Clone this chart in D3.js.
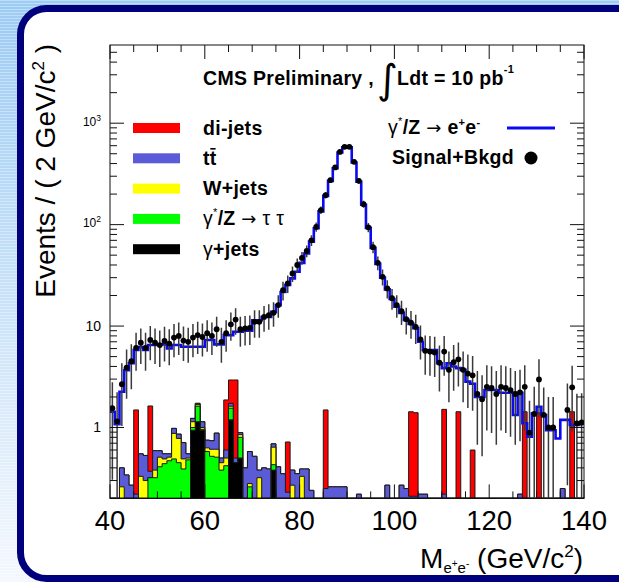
<!DOCTYPE html>
<html><head><meta charset="utf-8">
<script src="https://cdn.jsdelivr.net/npm/d3@7"></script>
<style>body{margin:0;background:#fff;} svg{display:block;} text{font-family:"Liberation Sans",Arial,Helvetica,sans-serif;}</style>
</head><body><svg id="c" width="619" height="582"></svg>
<script>
// ---------------- DATA ----------------
// bins: 1 GeV wide, lower edges 40..139
const massBins = d3.range(40, 140, 1);
const xTickLabels = ["40","60","80","100","120","140"];
const yTickLabels = [{v:1000,b:"10",e:"3"},{v:100,b:"10",e:"2"},{v:10,b:"10",e:""},{v:1,b:"1",e:""}];

const signalBkgd = [
 1.55,1.15,2.67,3.9,4.5,6.1,6.85,6.1,7.3,6.85,
 6.5,7.15,6.7,7.7,8.0,7.2,7.0,7.7,8.15,7.8,
 8.5,8.0,9.3,7.0,8.5,10.4,11.6,9.3,9.5,9.6,
 11.0,11.0,12.3,12.8,13.5,16.1,22.6,26.3,33,40,
 47,55,70,95,139,195,274,366,521,585,
 585,416,270,159,94,60,42,30.6,23.5,18.8,
 16.1,14,11.7,10.8,9.8,7.4,5.7,5.6,5.5,4.35,
 5.6,3.7,4.4,4.7,3.7,3.4,3.27,2.14,1.9,2.52,
 2.45,2.14,2.52,2.45,2.34,2.14,2.22,2.52,0.89,1.36,
 2.98,1.33,1.0,1.0,0,0,1.49,2.49,1.1,1.12];

const zeeMC = [
 1.43,1.08,2.25,3.68,4.3,5.8,6.2,5.8,6.5,6.5,
 6.6,6.6,6.0,6.5,6.5,6.25,6.25,6.25,6.25,6.25,
 7.3,7.3,6.6,6.6,8.15,8.15,8.8,8.8,9.0,9.0,
 11.4,11.4,12.3,12.3,13.8,16.1,21.7,25.4,29.5,34.3,
 42,52,68,92,135,192,270,360,515,580,
 580,410,265,157,93,59,41,30,23,18.5,
 15.5,13.5,11.5,10.5,9.5,7.0,5.8,5.8,5.8,4.3,
 3.85,4.3,4.0,3.85,3.7,2.83,2.7,2.0,2.0,2.34,
 2.34,2.34,2.2,2.2,2.2,1.33,2.2,1.1,0.81,1.38,
 1.6,1.33,0.94,0.94,0.78,1.19,1.19,1.06,1.06,1.1];

const gammaJets = [
 0,0,0,0,0,0,0,0,0,0,
 0,0,0,0,0,0,0,0.94,1.14,0.94,
 0,0,0,0,0,1.19,0.45,0.5,0,0,
 0,0,0,0,0.38,0,0,0,0,0,
 0,0,0,0,0,0,0,0,0,0,
 0,0,0,0,0,0,0,0,0,0,
 0,0,0,0,0,0,0,0,0,0,
 0,0,0,0,0,0,0,0,0,0,
 0,0,0,0,0,0,0,0,0,0,
 0,0,0,0,0,0,0,0,0,0];

const zTauTau = [
 0,0,0,0,0,0,0,0,0.32,0.32,
 0.41,0.44,0.47,0.49,0.45,0.39,0.48,0.06,0.48,0.02,
 0.58,0.52,0.51,0.38,0.42,0.36,0,0.3,0,0.26,
 0,0,0,0,0.05,0,0,0,0,0,
 0,0,0,0,0,0,0,0,0,0,
 0,0,0,0,0,0,0,0,0,0,
 0,0,0,0,0,0,0,0,0,0,
 0,0,0,0,0,0,0,0,0,0,
 0,0,0,0,0,0,0,0,0,0,
 0,0,0,0,0,0,0,0,0,0];

const wJets = [
 0,0,0.26,0,0,0,0.33,0.30,0,0.06,
 0.10,0.05,0.04,0.385,0.33,0.10,0.02,0.14,0.06,0.04,
 0.05,0.09,0.10,0.07,0.08,0.07,0,0.05,0,0.02,
 0,0.32,0,0,0.21,0,0,0,0.27,0,
 0.33,0,0,0,0,0,0,0,0,0,
 0,0,0,0,0,0,0,0,0,0,
 0,0,0,0,0,0,0,0,0,0,
 0,0,0,0,0,0,0,0,0,0,
 0,0,0,0,0,0,0,0,0,0,
 0,0,0,0,0,0,0,0,0,0];

const ttbar = [
 0,0,0.14,0.34,0.27,0.22,0.22,0.23,0.05,0.21,
 0.08,0.06,0.04,0.105,0.08,0.22,0.05,0.09,0.05,0.14,
 0.12,0.13,0.27,0.05,0.10,0.11,0.05,0.04,0.4,0.30,
 0.52,0.06,0.4,0.39,0.05,0.41,0.35,0.23,0.11,0.35,
 0.06,0.39,0.24,0,0,0.25,0.26,0.26,0.26,0.26,
 0,0,0.22,0,0,0,0,0,0.27,0,
 0,0.27,0.25,0.21,0.21,0.22,0.22,0,0,0,
 0.22,0,0,0,0,0,0,0,0,0,
 0,0,0,0,0,0,0.22,0,0,0,
 0,0,0,0,0,0.25,0,0,0,0];

const diJets = [
 0,0,0,0,0,1.27,0,0,1.26,0,
 0,0,0,0,0,0,0,0,0,0,
 0,0,0,0,1.27,1.21,2.44,0,0,0,
 0,0,0,0,0,0,0,0.49,0,0,
 0,0,0,0,0,1.24,0,0,0,0,
 0,0,0,0,0,0,0,0,0,0,
 0,0,0,1.22,1.19,0,0,0,0,0,
 1.29,0,0,1.43,0,0,0.6,0,0,0,
 0,0,0,0,0,0,0,1.43,0,0,
 1.4,0,0,0,0,0,0,1.43,0,0];

// ---------------- DRAW ----------------
const W = 619, H = 582;
const svg = d3.select('#c');
const defs = svg.append('defs');
const bg = defs.append('linearGradient').attr('id','bg').attr('x1',0).attr('y1',0).attr('x2',0).attr('y2',1);
bg.append('stop').attr('offset','0%').attr('stop-color','#9ccbf4');
bg.append('stop').attr('offset','100%').attr('stop-color','#f4f8fd');
const pat = defs.append('pattern').attr('id','stripes').attr('width',4).attr('height',3).attr('patternUnits','userSpaceOnUse');
pat.append('rect').attr('width',4).attr('height',1).attr('fill','#ffffff').attr('opacity',0.35);
svg.append('rect').attr('width',W).attr('height',H).attr('fill','url(#bg)');
svg.append('rect').attr('width',W).attr('height',H).attr('fill','url(#stripes)');
svg.append('rect').attr('x',20.5).attr('y',8.5).attr('width',680).attr('height',570)
  .attr('rx',26).attr('fill','#ffffff').attr('stroke','#00007c').attr('stroke-width',7);

const X0 = 110, X1 = 584, Y0 = 45, Y1 = 498.4;
const yMin = 0.2, yMax = 5900;
const x = d3.scaleLinear().domain([40,140]).range([X0,X1]);
const y = d3.scaleLog().domain([yMin,yMax]).range([Y1,Y0]);

defs.append('clipPath').attr('id','clip').append('rect')
  .attr('x',X0).attr('y',Y0).attr('width',X1-X0).attr('height',Y1-Y0);
const plot = svg.append('g').attr('clip-path','url(#clip)');

// stacked backgrounds
const keys = ['gjets','ztt','wjets','ttbar','dijets'];
const colors = {gjets:'#000000', ztt:'#00ff00', wjets:'#ffff00', ttbar:'#5b5bd8', dijets:'#ff0000'};
const table = massBins.map((m,i)=>({m, gjets:gammaJets[i], ztt:zTauTau[i], wjets:wJets[i], ttbar:ttbar[i], dijets:diJets[i]}));
const stacked = d3.stack().keys(keys)(table);
const area = d3.area().curve(d3.curveStepAfter)
  .x(d=>x(d.m)).y0(y(yMin)).y1(d=>y(Math.max(d.v,yMin)));
stacked.slice().reverse().forEach(s=>{
  const pts = s.map((d,i)=>({m:massBins[i], v:d[1]}));
  pts.push({m:140, v:pts[pts.length-1].v});
  plot.append('path').attr('d',area(pts)).attr('fill',colors[s.key])
    .attr('stroke','#1a1a1a').attr('stroke-width',1);
});

// MC total line
const line = d3.line().curve(d3.curveStepAfter).x(d=>x(d.m)).y(d=>y(Math.max(d.v,yMin)));
const mcPts = zeeMC.map((v,i)=>({m:massBins[i], v}));
mcPts.push({m:140, v:zeeMC[zeeMC.length-1]});
plot.append('path').attr('d',line(mcPts)).attr('fill','none')
  .attr('stroke','#0a0af2').attr('stroke-width',2.6);

// data error bars & points
const pts = signalBkgd.map((v,i)=>({m:massBins[i]+0.5, v})).filter(d=>d.v>0);
plot.selectAll('line.err').data(pts).join('line').attr('class','err')
  .attr('x1',d=>x(d.m)).attr('x2',d=>x(d.m))
  .attr('y1',d=>y(Math.max(d.v-Math.sqrt(d.v),yMin)))
  .attr('y2',d=>y(d.v+Math.sqrt(d.v)))
  .attr('stroke','#3a3a3a').attr('stroke-width',1.5);
plot.selectAll('circle.pt').data(pts).join('circle').attr('class','pt')
  .attr('cx',d=>x(d.m)).attr('cy',d=>y(d.v)).attr('r',2.9).attr('fill','#000');

// frame & ticks
const ax = svg.append('g').attr('stroke','#111').attr('stroke-width',1);
ax.append('rect').attr('x',X0).attr('y',Y0).attr('width',X1-X0).attr('height',Y1-Y0).attr('fill','none');
d3.range(40,141,5).forEach(v=>{
  const len = (v%20===0)?14:7;
  ax.append('line').attr('x1',x(v)).attr('x2',x(v)).attr('y1',Y1).attr('y2',Y1-len);
  ax.append('line').attr('x1',x(v)).attr('x2',x(v)).attr('y1',Y0).attr('y2',Y0+len);
});
[0.1,1,10,100,1000].forEach(dec=>{
  for(let k=1;k<=9;k++){
    const v = dec*k; if(v<yMin||v>yMax) continue;
    const len = (k===1)?14:7;
    ax.append('line').attr('x1',X0).attr('x2',X0+len).attr('y1',y(v)).attr('y2',y(v));
    ax.append('line').attr('x1',X1).attr('x2',X1-len).attr('y1',y(v)).attr('y2',y(v));
  }
});

// x tick labels
xTickLabels.forEach(t=>{
  svg.append('text').attr('x',x(+t)).attr('y',529.5).attr('text-anchor','middle')
    .attr('font-size',27.5).attr('fill','#000').text(t);
});
// y tick labels
yTickLabels.forEach(t=>{
  const tx = svg.append('text').attr('x',101).attr('text-anchor','end').attr('fill','#000');
  if(t.e){
    tx.attr('y',y(t.v)+2.5).attr('font-size',12);
    tx.append('tspan').text(t.b);
    tx.append('tspan').attr('font-size',8.5).attr('dy',-5).text(t.e);
  } else {
    tx.attr('y',y(t.v)+4.5).attr('font-size',14).text(t.b);
  }
});

// axis titles
const yt = svg.append('text').attr('transform','translate(55,44) rotate(-90)')
  .attr('text-anchor','end').attr('font-size',28).attr('fill','#000');
yt.append('tspan').text('Events / ( 2 GeV/c');
yt.append('tspan').attr('font-size',17).attr('dy',-11).text('2');
yt.append('tspan').attr('dy',11).text(' )');

const xt = svg.append('text').attr('x',583).attr('y',568).attr('text-anchor','end')
  .attr('font-size',28).attr('fill','#000');
xt.append('tspan').text('M');
xt.append('tspan').attr('font-size',15).attr('dy',5).text('e');
xt.append('tspan').attr('font-size',10).attr('dy',-6).text('+');
xt.append('tspan').attr('font-size',15).attr('dy',6).text('e');
xt.append('tspan').attr('font-size',10).attr('dy',-6).text('-');
xt.append('tspan').attr('dy',1).text(' (GeV/c');
xt.append('tspan').attr('font-size',17).attr('dy',-11).text('2');
xt.append('tspan').attr('dy',11).text(')');

// title
const bold = {size:19.5, ls:0.3};
svg.append('text').attr('x',203).attr('y',85).attr('font-size',bold.size).attr('letter-spacing',bold.ls)
  .attr('font-weight','bold').text('CMS Preliminary ,');
svg.append('text').attr('x',377).attr('y',93).attr('font-size',40)
  .style('font-family','"DejaVu Sans"').attr('font-weight','normal').text('∫');
const tt2 = svg.append('text').attr('x',397).attr('y',85).attr('font-size',bold.size)
  .attr('letter-spacing',bold.ls).attr('font-weight','bold');
tt2.append('tspan').text('Ldt = 10 pb');
tt2.append('tspan').attr('font-size',11).attr('dy',-12).text('-1');

// legend left
const legItems = [
  {key:'dijets', label:[{t:'di-jets',b:true}]},
  {key:'ttbar', label:[{t:'tt',b:true}]},
  {key:'wjets', label:[{t:'W+jets',b:true}]},
  {key:'ztt', label:[{t:'γ',b:false},{t:'*',b:false,sup:true},{t:'/Z',b:true,down:true},{t:' ',b:false},{t:'→',b:false,arrow:true},{t:' τ τ',b:false}]},
  {key:'gjets', label:[{t:'γ',b:false},{t:'+jets',b:true}]}
];
legItems.forEach((it,i)=>{
  const cy = 128 + i*30.3;
  svg.append('rect').attr('x',133).attr('y',cy-5).attr('width',47).attr('height',10).attr('fill',colors[it.key]);
  const tx = svg.append('text').attr('x',203).attr('y',cy+6.5).attr('font-size',bold.size)
    .attr('letter-spacing',bold.ls).attr('fill','#000');
  it.label.forEach(p=>{
    const ts = tx.append('tspan').attr('font-weight',p.b?'bold':'normal').text(p.t);
    if(p.sup) ts.attr('font-size',11).attr('dy',-9);
    if(p.down) ts.attr('dy',9);
    if(p.arrow) ts.style('font-family','"DejaVu Sans"').attr('font-size',18);
  });
  if(it.key==='ttbar'){
    const w = tx.node().getComputedTextLength();
    svg.append('line').attr('x1',203+w/2+0.5).attr('x2',203+w-1).attr('y1',cy-9.5).attr('y2',cy-9.5)
      .attr('stroke','#000').attr('stroke-width',1.6);
  }
});

// legend right
const lr = svg.append('text').attr('x',388).attr('y',134).attr('font-size',bold.size)
  .attr('letter-spacing',bold.ls).attr('fill','#000');
lr.append('tspan').text('γ');
lr.append('tspan').attr('font-size',11).attr('dy',-9).text('*');
lr.append('tspan').attr('font-weight','bold').attr('dy',9).text('/Z');
lr.append('tspan').text(' ');
lr.append('tspan').style('font-family','"DejaVu Sans"').attr('font-size',18).text('→');
lr.append('tspan').text(' ');
lr.append('tspan').attr('font-weight','bold').text('e');
lr.append('tspan').attr('font-weight','bold').attr('font-size',11).attr('dy',-8).text('+');
lr.append('tspan').attr('font-weight','bold').attr('dy',8).text('e');
lr.append('tspan').attr('font-weight','bold').attr('font-size',11).attr('dy',-8).text('-');
svg.append('line').attr('x1',507).attr('x2',555).attr('y1',128).attr('y2',128)
  .attr('stroke','#0a0af2').attr('stroke-width',3);
svg.append('text').attr('x',392).attr('y',164).attr('font-size',bold.size).attr('letter-spacing',bold.ls)
  .attr('font-weight','bold').text('Signal+Bkgd');
svg.append('circle').attr('cx',531).attr('cy',158).attr('r',6.5).attr('fill','#000');
</script></body></html>
